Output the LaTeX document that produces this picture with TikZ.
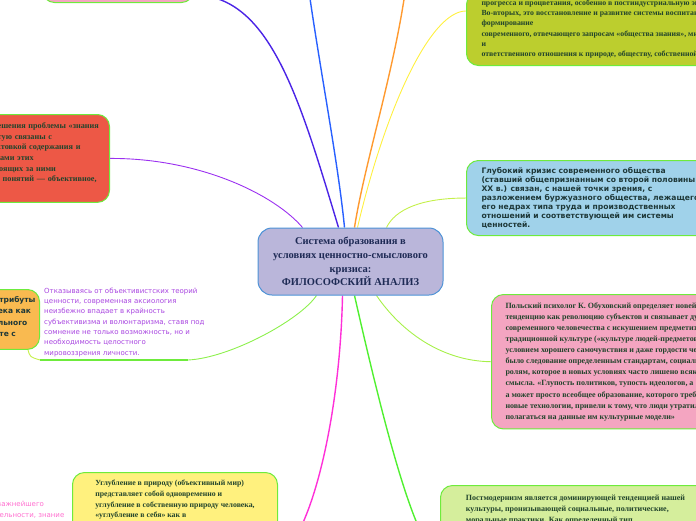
\documentclass[tikz,border=0pt]{standalone}
\usepackage{fontspec}
\setmainfont{Liberation Serif}
\newfontfamily\dejavu{DejaVu Sans}
\usepackage{tikz}
\usetikzlibrary{calc, backgrounds}
\usepackage{xcolor}
\definecolor{MapBorder}{HTML}{6EEB3C}
\definecolor{MapCentral}{HTML}{BAB6DA}
\definecolor{MapCentralBorder}{HTML}{4C92D6}
\definecolor{MapCentralText}{HTML}{1E2A55}
\definecolor{MapTextGreen}{HTML}{22442C}
\definecolor{MapTextDark}{HTML}{1E3838}
\definecolor{MapPink}{HTML}{F4A5C1}
\definecolor{MapOlive}{HTML}{BCCE2E}
\definecolor{MapRed}{HTML}{ED5846}
\definecolor{MapBlue}{HTML}{A0D2EA}
\definecolor{MapOrange}{HTML}{F9BA50}
\definecolor{MapYellow}{HTML}{FFF17E}
\definecolor{MapLime}{HTML}{D5EE9C}
\definecolor{MapPurpleText}{HTML}{A845E0}
\definecolor{MapPinkText}{HTML}{FF6FCF}
\definecolor{LineIndigo}{HTML}{4B24E6}
\definecolor{LineBlue}{HTML}{2860FF}
\definecolor{LineOrange}{HTML}{FF9A30}
\definecolor{LineYellow}{HTML}{FFF040}
\definecolor{LineYellowGreen}{HTML}{C4F04A}
\definecolor{LinePurple}{HTML}{9B30F0}
\definecolor{LineLightGreen}{HTML}{8CF04C}
\definecolor{LineMagenta}{HTML}{FF30D8}
\definecolor{LineGreen}{HTML}{50F030}
\definecolor{LineGrass}{HTML}{A6F048}
\tikzset{
    % Box styles - rounded, green rim
    topic/.style={
        rectangle,
        rounded corners=12pt,
        draw=MapBorder,
        line width=1pt,
        align=left,
        inner xsep=14pt,
        inner ysep=8pt,
        text=MapTextGreen,
        font=\fontsize{8}{11.1}\selectfont\bfseries
    },
    sanstopic/.style={
        topic,
        text=MapTextDark,
        font=\dejavu\fontsize{7.6}{9}\selectfont\bfseries
    },
    central/.style={
        rectangle,
        rounded corners=14pt,
        draw=MapCentralBorder,
        fill=MapCentral,
        line width=1pt,
        minimum width=185pt,
        minimum height=67pt,
        align=center,
        text=MapCentralText,
        font=\fontsize{10.5}{13.6}\selectfont\bfseries
    },
    floating/.style={
        align=left,
        inner sep=0pt,
        font=\dejavu\fontsize{7}{10.3}\selectfont
    },
    % Connector styles - curves only
    branch/.style={
        line width=1.4pt
    },
    twig/.style={
        line width=0.9pt
    }
}

\begin{document}
\begin{tikzpicture}[x=1pt, y=-1pt]
    \useasboundingbox (0,0) rectangle (696,520);
    \clip (0,0) rectangle (696,520);

    % Central topic
    \node[central] (ctr) at (350.5,261.5) {Система образования в\\ условиях ценностно-смыслового\\ кризиса:\\ ФИЛОСОФСКИЙ АНАЛИЗ};

    % Upper side
    \node[topic, fill=MapPink, anchor=south west, minimum width=151pt, minimum height=60pt] (sources) at (42,3) {};

    \node[topic, fill=MapOlive, anchor=south west, inner xsep=15pt, inner ysep=7pt, font=\fontsize{7.8}{10.3}\selectfont\bfseries] (upbring) at (466,66) {прогресса и процветания, особенно в постиндустриальную эпоху.\\
        Во-вторых, это восстановление и развитие системы воспитания,\\
        формирование\\
        современного, отвечающего запросам «общества знания», мировоззрения\\
        и\\
        ответственного отношения к природе, обществу, собственной жизни.};

    \coordinate (hiddenA) at (306,-30);
    \coordinate (hiddenB) at (408,-30);

    % Left side
    \node[topic, fill=MapRed, anchor=north east, text width=200pt, inner xsep=2pt, inner ysep=8pt, text depth=66pt, font=\fontsize{8.2}{10.7}\selectfont\bfseries] (knowledge) at (110,114) {Однако все трудности решения проблемы «знания\\
        и ценности» ныне зачастую связаны с\\
        с неоднозначной их трактовкой содержания и\\
        и их смысловыми объемами этих\\
        ценностей и явлений, стоящих за ними\\
        а значит, и всех базовых понятий — объективное,};

    \node[sanstopic, fill=MapOrange, anchor=north east, inner xsep=4pt, inner ysep=7pt, text depth=6pt, font=\dejavu\fontsize{7.5}{11.3}\selectfont\bfseries] (attrib) at (40,289) {Ценности и атрибуты\\
        жизни человека как\\
        и индивидуального\\
        и бытия вместе с};

    \node[floating, text=MapPurpleText, anchor=base west] (subjective) at (44,355) {Отказываясь от объективистских теорий\\
        ценности, современная аксиология\\
        неизбежно впадает в крайность\\
        субъективизма и волюнтаризма, ставя под\\
        сомнение не только возможность, но и\\
        необходимость целостного\\
        мировоззрения личности.};
    \coordinate (subjleft) at (40,360);
    \coordinate (subjright) at (188,360);
    \draw[twig, line width=1.3pt, MapBorder] (subjleft) -- (subjright);

    \node[floating, text=MapPinkText, anchor=base west, font=\dejavu\fontsize{7}{11}\selectfont] (values) at (-18,517) {как важнейшего\\
        деятельности, знание};

    % Right side
    \node[sanstopic, fill=MapBlue, anchor=north west, inner xsep=15pt, inner ysep=7pt, minimum width=240pt] (crisis) at (466,160) {Глубокий кризис современного общества\\
        (ставший общепризнанным со второй половины\\
        XX в.) связан, с нашей точки зрения, с\\
        разложением буржуазного общества, лежащего в\\
        его недрах типа труда и производственных\\
        отношений и соответствующей им системы\\
        ценностей.};

    \node[topic, fill=MapPink, anchor=north west] (obuh) at (491,294) {Польский психолог К. Обуховский определяет новейшую\\
        тенденцию как революцию субъектов и связывает духовный кризис\\
        современного человечества с искушением предметизации. В\\
        традиционной культуре («культуре людей-предметов»)\\
        условием хорошего самочувствия и даже гордости человека\\
        было следование определенным стандартам, социальным\\
        ролям, которое в новых условиях часто лишено всякого\\
        смысла. «Глупость политиков, тупость идеологов, а\\
        а может просто всеобщее образование, которого требуют\\
        новые технологии, привели к тому, что люди утратили веру\\
        полагаться на данные им культурные модели»};

    % Lower side
    \node[topic, fill=MapYellow, anchor=north west, inner ysep=7.5pt, minimum width=205pt, font=\fontsize{7.8}{10.8}\selectfont\bfseries] (depth) at (72,472) {Углубление в природу (объективный мир)\\
        представляет собой одновременно и\\
        углубление в собственную природу человека,\\
        «углубление в себя» как в\\
        объективированную природу, а в конечном};

    \node[topic, fill=MapLime, anchor=north west, inner xsep=15pt, inner ysep=9pt, minimum width=270pt] (postmod) at (440,485) {Постмодернизм является доминирующей тенденцией нашей\\
        культуры, пронизывающей социальные, политические,\\
        моральные практики. Как определенный тип};

    % Connectors
    \begin{scope}[on background layer]
        \draw[branch, LineIndigo] ($(sources.south east)+(0,-8)$) .. controls (270,-5) and (300,100) .. ($(ctr.north west)+(81,0)$);
        \draw[branch, LineBlue] (hiddenA) .. controls (318,60) and (338,160) .. ($(ctr.north west)+(87,0)$);
        \draw[branch, LineOrange] (hiddenB) .. controls (398,60) and (365,160) .. ($(ctr.north west)+(97,0)$);
        \draw[twig, LineYellow] ($(upbring.south west)+(0,-55)$) .. controls (430,11) and (385,110) .. ($(ctr.north west)+(100,0)$);
        \draw[twig, LineYellowGreen] (crisis.west) .. controls (420,198) and (395,210) .. ($(ctr.north west)+(129,0)$);
        \draw[twig, LinePurple] (knowledge.east) .. controls (200,158) and (275,195) .. ($(ctr.north west)+(45,0)$);
        \draw[twig, LineLightGreen] ($(ctr.south west)+(59,0)$) .. controls (300,320) and (230,358) .. (subjright);
        \draw[twig, LineYellowGreen] ($(attrib.south east)+(-12,0)$) .. controls (30,357) .. (subjleft);
        \draw[branch, LineMagenta] ($(ctr.south west)+(85,0)$) .. controls (340,420) and (310,540) .. ($(depth.north east)+(0,85)$);
        \draw[branch, LineGreen] ($(ctr.south west)+(97,0)$) .. controls (385,430) and (415,545) .. ($(postmod.north west)+(0,75)$);
        \draw[twig, LineGrass] ($(ctr.south west)+(119,0)$) .. controls (400,330) and (440,361) .. (obuh.west);
    \end{scope}
\end{tikzpicture}
\end{document}
